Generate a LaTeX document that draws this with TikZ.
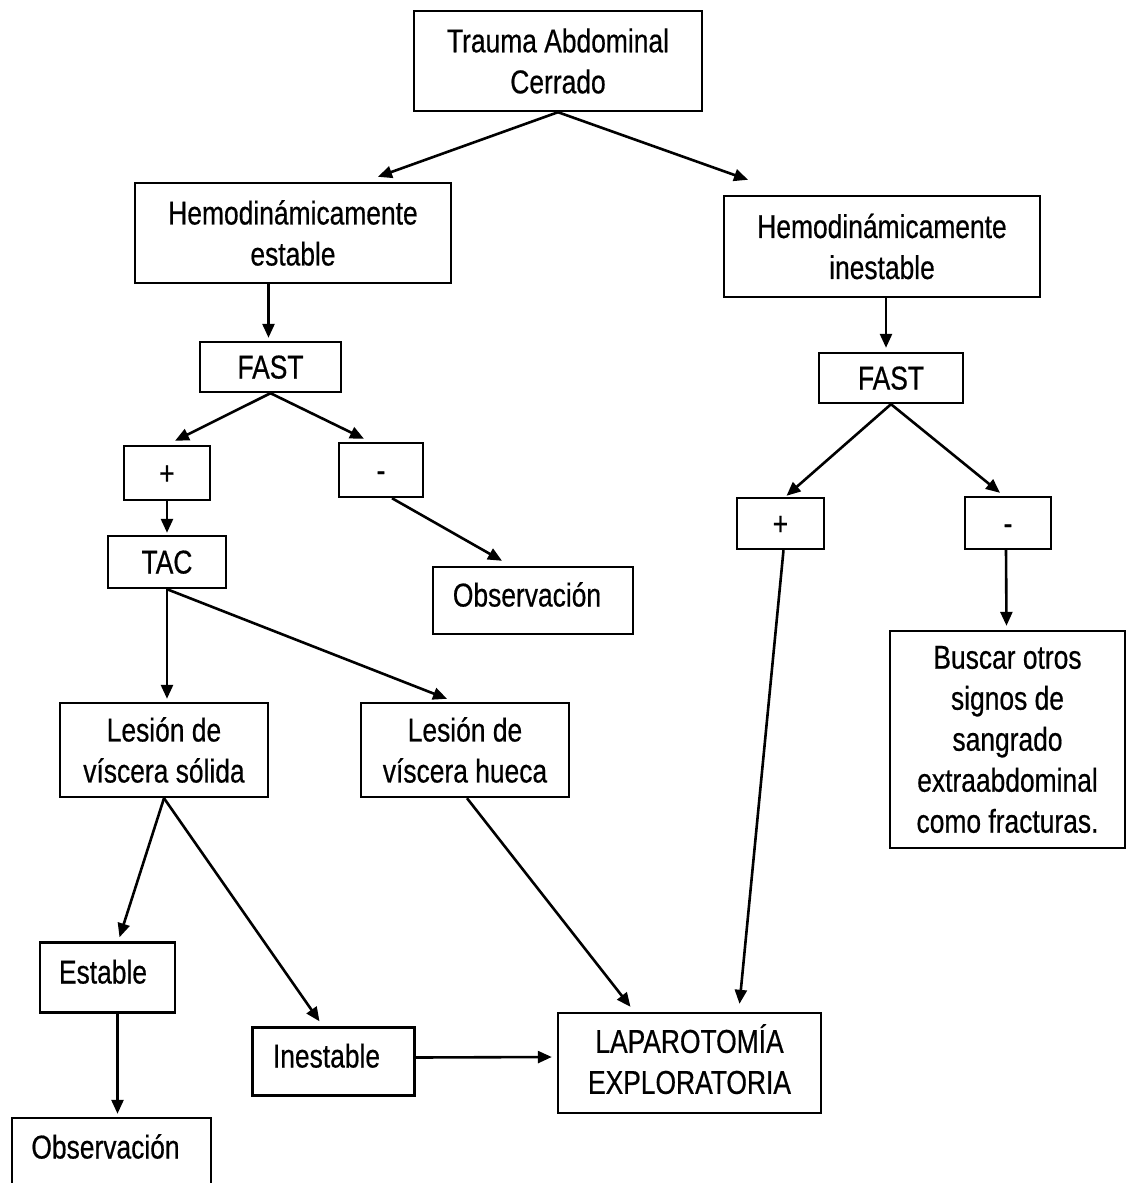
\documentclass[tikz,border=0pt]{standalone}
\usepackage{fontspec}
\setmainfont{Liberation Sans}[FakeStretch=0.8,FakeBold=0.5]
\usetikzlibrary{arrows.meta,calc}
\begin{document}
\begin{tikzpicture}[x=1pt,y=-1pt,
 box/.style={draw,line width=2.4pt,align=center,inner sep=0pt,font=\fontsize{33}{41}\selectfont},
 one/.style={text height=23pt,text depth=0pt},
 lab/.style={font=\fontsize{33}{41}\selectfont,text height=23pt,text depth=0pt,inner sep=0pt},
 arr/.style={line width=2.6pt,-{Triangle[length=14pt,width=12pt]}}]
\useasboundingbox (0,0) rectangle (1126,1183);
\fill[white] (0,0) rectangle (1126,1183);
\clip (0,0) rectangle (1126,1183);
% boxes
\node[box,minimum width=288pt,minimum height=100pt] (trauma) at (558,61) {Trauma Abdominal\\Cerrado};
\node[box,minimum width=316pt,minimum height=100pt] (hemoE) at (293,233) {Hemodinámicamente\\estable};
\node[box,minimum width=316pt,minimum height=101pt] (hemoI) at (882,246.5) {Hemodinámicamente\\inestable};
\node[box,one,minimum width=141pt,minimum height=50pt] (fastL) at (270.5,367) {FAST};
\node[box,one,minimum width=144pt,minimum height=50pt] (fastR) at (891,378) {FAST};
\node[box,one,minimum width=86pt,minimum height=54pt] (plusL) at (167,473) {+};
\node[box,one,minimum width=84pt,minimum height=54pt] (minusL) at (381,470) {-};
\node[box,one,minimum width=118pt,minimum height=52pt] (tac) at (167,562) {TAC};
\node[box,minimum width=200pt,minimum height=67pt,
  label={[lab,xshift=-6pt,yshift=5.5pt]center:Observación}] (obsM) at (533,600.5) {};
\node[box,one,minimum width=87pt,minimum height=51pt] (plusR) at (780.5,523.5) {+};
\node[box,one,minimum width=86pt,minimum height=52pt] (minusR) at (1008,523) {-};
\node[box,minimum width=235pt,minimum height=217pt] (buscar) at (1007.5,739.5) {Buscar otros\\signos de\\sangrado\\extraabdominal\\como fracturas.};
\node[box,minimum width=208pt,minimum height=94pt] (lesS) at (164,750) {Lesión de\\víscera sólida};
\node[box,minimum width=208pt,minimum height=94pt] (lesH) at (465,750) {Lesión de\\víscera hueca};
\node[box,minimum width=135pt,minimum height=70pt,
  label={[lab,xshift=-4.5pt,yshift=5.5pt]center:Estable}] (estable) at (107.5,977.5) {};
\node[box,minimum width=162pt,minimum height=68pt,
  label={[lab,xshift=-7pt,yshift=5.5pt]center:Inestable}] (inest) at (333.5,1061.5) {};
\node[box,minimum width=263pt,minimum height=100pt,text depth=8pt] (lap) at (689.5,1063) {LAPAROTOMÍA\\EXPLORATORIA};
\node[box,minimum width=199pt,minimum height=66pt,
  label={[lab,xshift=-6pt,yshift=4pt]center:Observación}] (obsB) at (111.5,1151) {};
% connectors
\draw[arr] (trauma.south) -- ($(hemoE.north)+(85,-5)$);
\draw[arr] (trauma.south) -- ($(hemoI.north)+(-134,-15)$);
\draw[arr] ($(fastL.north |- hemoE.south)+(-2,0)$) -- ($(fastL.north)+(-2,-3)$);
\draw[arr] ($(fastR.north |- hemoI.south)+(-5,0)$) -- ($(fastR.north)+(-5,-4)$);
\draw[arr] (fastL.south) -- ($(plusL.north)+(8,-4)$);
\draw[arr] (fastL.south) -- ($(minusL.north)+(-17,-3)$);
\draw[arr] (plusL.south) -- ($(tac.north)+(0,-2)$);
\draw[arr] ($(minusL.south)+(11,0)$) -- ($(obsM.north)+(-31,-5)$);
\draw[arr] (tac.south) -- ($(lesS.north)+(3,-3)$);
\draw[arr] (tac.south) -- ($(lesH.north)+(-18,-3)$);
\draw[arr] (fastR.south) -- ($(plusR.north)+(6,-1)$);
\draw[arr] (fastR.south) -- ($(minusR.north)+(-8,-3)$);
\draw[arr] ($(plusR.south)+(3,0)$) -- ($(lap.north)+(50,-8)$);
\draw[arr] ($(minusR.south)+(-2,0)$) -- ($(buscar.north)+(-1,-4)$);
\draw[arr] ($(lesH.south)+(2,0)$) -- ($(lap.north)+(-59,-5)$);
\draw[arr] (lesS.south) -- ($(estable.north)+(12,-4)$);
\draw[arr] (lesS.south) -- ($(inest.north)+(-14,-5)$);
\draw[arr] ($(estable.south)+(10,0)$) -- ($(obsB.north)+(6,-3)$);
\draw[arr] ($(inest.east)+(0,-4)$) -- ($(lap.west)+(-5,-6)$);
\end{tikzpicture}
\end{document}
